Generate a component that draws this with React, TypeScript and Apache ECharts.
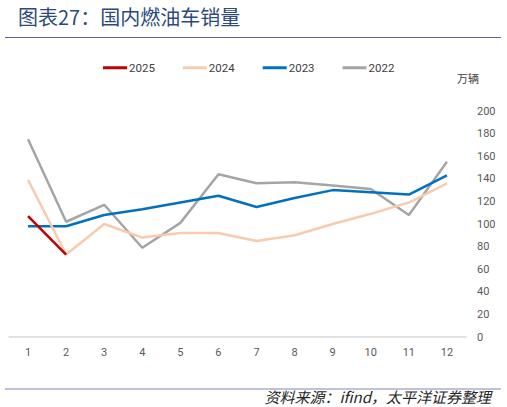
import { useRef, useEffect } from 'react';
import * as echarts from 'echarts';

const months = ['1', '2', '3', '4', '5', '6', '7', '8', '9', '10', '11', '12'];
const sales2025 = [107, 73];
const sales2024 = [139, 73, 100, 88, 92, 92, 85, 90, 100, 109, 119, 136];
const sales2023 = [98, 98, 108, 113, 119, 125, 115, 123, 130, 128, 126, 143];
const sales2022 = [175, 102, 117, 79, 101, 144, 136, 137, 134, 131, 108, 155];

const seriesNames = ['2025', '2024', '2023', '2022'];
const seriesColors = ['#c00000', '#f8cbad', '#0070c0', '#a5a5a5'];

const App: React.FC = () => {
    const chartRef = useRef<HTMLDivElement>(null);

    useEffect(() => {
        document.body.style.margin = '0';
        if (!chartRef.current) return;
        const chart = echarts.init(chartRef.current, null, { renderer: 'svg' });
        const allData = [sales2025, sales2024, sales2023, sales2022];

        const option: echarts.EChartsOption = {
            animation: false,
            backgroundColor: '#ffffff',
            textStyle: { fontFamily: 'Roboto, "Noto Sans CJK SC", sans-serif' },
            grid: { left: 9, right: 41, top: 111, bottom: 70 },
            legend: {
                top: 57,
                left: 98,
                icon: 'rect',
                itemWidth: 24,
                itemHeight: 3,
                itemGap: 28,
                textStyle: { color: '#404040', fontSize: 11.5, padding: [0, 0, 0, -3] },
                data: seriesNames,
            },
            xAxis: {
                type: 'category',
                data: months,
                boundaryGap: true,
                axisLine: { lineStyle: { color: '#d9d9d9', width: 1.5 } },
                axisTick: { show: false },
                axisLabel: { color: '#595959', fontSize: 11, margin: 10 },
            },
            yAxis: {
                type: 'value',
                position: 'right',
                min: 0,
                max: 200,
                interval: 20,
                splitLine: { show: false },
                axisLine: { show: false },
                axisTick: { show: false },
                axisLabel: { color: '#595959', fontSize: 11, margin: 11 },
            },
            graphic: [
                {
                    type: 'text',
                    x: 18,
                    y: 16,
                    style: {
                        text: '图表27：国内燃油车销量',
                        fill: '#2c4a7c',
                        font: '20px "Noto Sans CJK SC"',
                        verticalAlign: 'middle',
                    },
                },
                {
                    type: 'line',
                    shape: { x1: 5, y1: 37.5, x2: 501, y2: 37.5 },
                    style: { stroke: '#5f6498', lineWidth: 1 },
                },
                {
                    type: 'text',
                    left: 457,
                    top: 72,
                    style: {
                        text: '万辆',
                        fill: '#404040',
                        font: '11px "Noto Sans CJK SC"',
                    },
                },
                {
                    type: 'line',
                    shape: { x1: 5, y1: 389, x2: 501, y2: 389 },
                    style: { stroke: '#a8aed0', lineWidth: 1.5 },
                },
                {
                    type: 'text',
                    x: 491,
                    y: 396,
                    style: {
                        text: '资料来源：ifind，太平洋证券整理',
                        fill: '#262626',
                        font: 'italic 15px "Noto Sans CJK SC"',
                        align: 'right',
                        verticalAlign: 'middle',
                    },
                },
            ],
            series: seriesNames.map((name, i) => ({
                name,
                type: 'line',
                data: allData[i],
                symbol: 'none',
                color: seriesColors[i],
                lineStyle: { width: 2.5, color: seriesColors[i] },
                z: 10 - i,
            })),
        };

        chart.setOption(option);
        return () => {
            chart.dispose();
        };
    }, []);

    return <div ref={chartRef} style={{ width: '507px', height: '407px' }} />;
};

export default App;
